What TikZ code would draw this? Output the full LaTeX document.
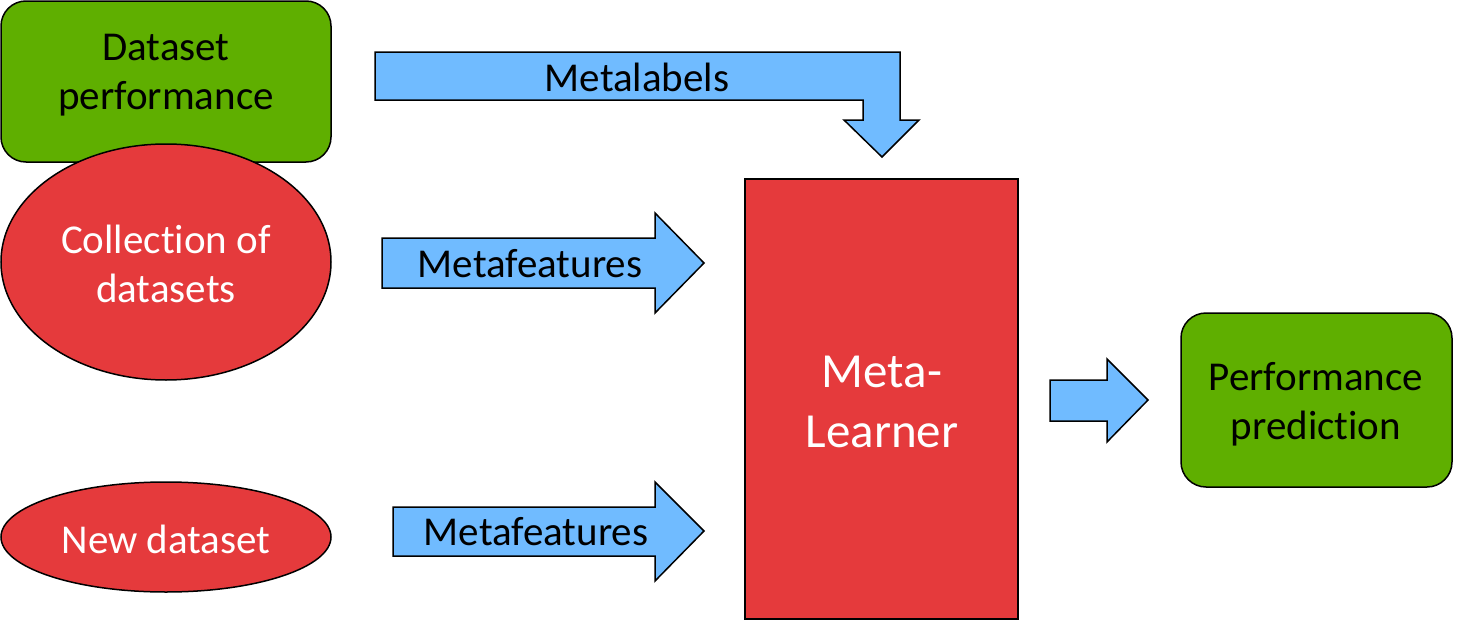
\documentclass[tikz,border=0pt]{standalone}
\usepackage{fontspec}
\setmainfont{Carlito}[Ligatures=NoCommon]
\definecolor{boxgreen}{HTML}{5FAF00}
\definecolor{boxred}{HTML}{E53A3C}
\definecolor{arrowblue}{HTML}{70BBFF}
\begin{document}
\begin{tikzpicture}[x=1pt,y=-1pt,
  txt/.style={font=\fontsize{41}{49}\selectfont, align=center, inner sep=0pt},
  bigtxt/.style={font=\fontsize{49}{60}\selectfont, align=center, inner sep=0pt},
  outl/.style={draw=black, line width=1.5pt},
  greenbox/.style={outl, fill=boxgreen, rounded corners=25pt},
  redshape/.style={outl, fill=boxred},
  blockarrow/.style={outl, fill=arrowblue, line join=miter}]
\useasboundingbox (0,0) rectangle (1460,621);
% Dataset performance
\draw[greenbox] (1,1) rectangle (331,162);
\node[txt] (dp) at (166,75) {Dataset\\performance};
% Collection of datasets
\draw[redshape] (166,262) ellipse [x radius=165, y radius=118];
\node[txt, text=white] (cd) at (166,264) {Collection of\\datasets};
% New dataset
\draw[redshape] (166,537) ellipse [x radius=165, y radius=55];
\node[txt, text=white] (nd) at (166,539) {New dataset};
% Meta-Learner
\draw[redshape] (745,179) rectangle (1018,619);
\node[bigtxt, text=white] (ml) at (882,402) {Meta-\\Learner};
% Performance prediction
\draw[greenbox] (1181,313) rectangle (1452,487);
\node[txt] (pp) at (1316,404) {Performance\\prediction};
% Metalabels bent arrow
\draw[blockarrow] (375,52) -- (900,52) -- (900,120) -- (919,120) -- (882,157)
  -- (844,120) -- (863,120) -- (863,100) -- (375,100) -- cycle;
\node[txt] (mlab) at (637,77) {Metalabels};
% Metafeatures arrow 1
\draw[blockarrow] (382,238) -- (655,238) -- (655,213) -- (704,263) -- (655,313)
  -- (655,288) -- (382,288) -- cycle;
\node[txt] (mf1) at (530,264) {Metafeatures};
% Metafeatures arrow 2
\draw[blockarrow] (393,507) -- (655,507) -- (655,482) -- (704,531) -- (655,581)
  -- (655,556) -- (393,556) -- cycle;
\node[txt] (mf2) at (536,532) {Metafeatures};
% output arrow
\draw[blockarrow] (1050,380) -- (1107,380) -- (1107,359) -- (1148,400) -- (1107,442)
  -- (1107,421) -- (1050,421) -- cycle;
\end{tikzpicture}
\end{document}
